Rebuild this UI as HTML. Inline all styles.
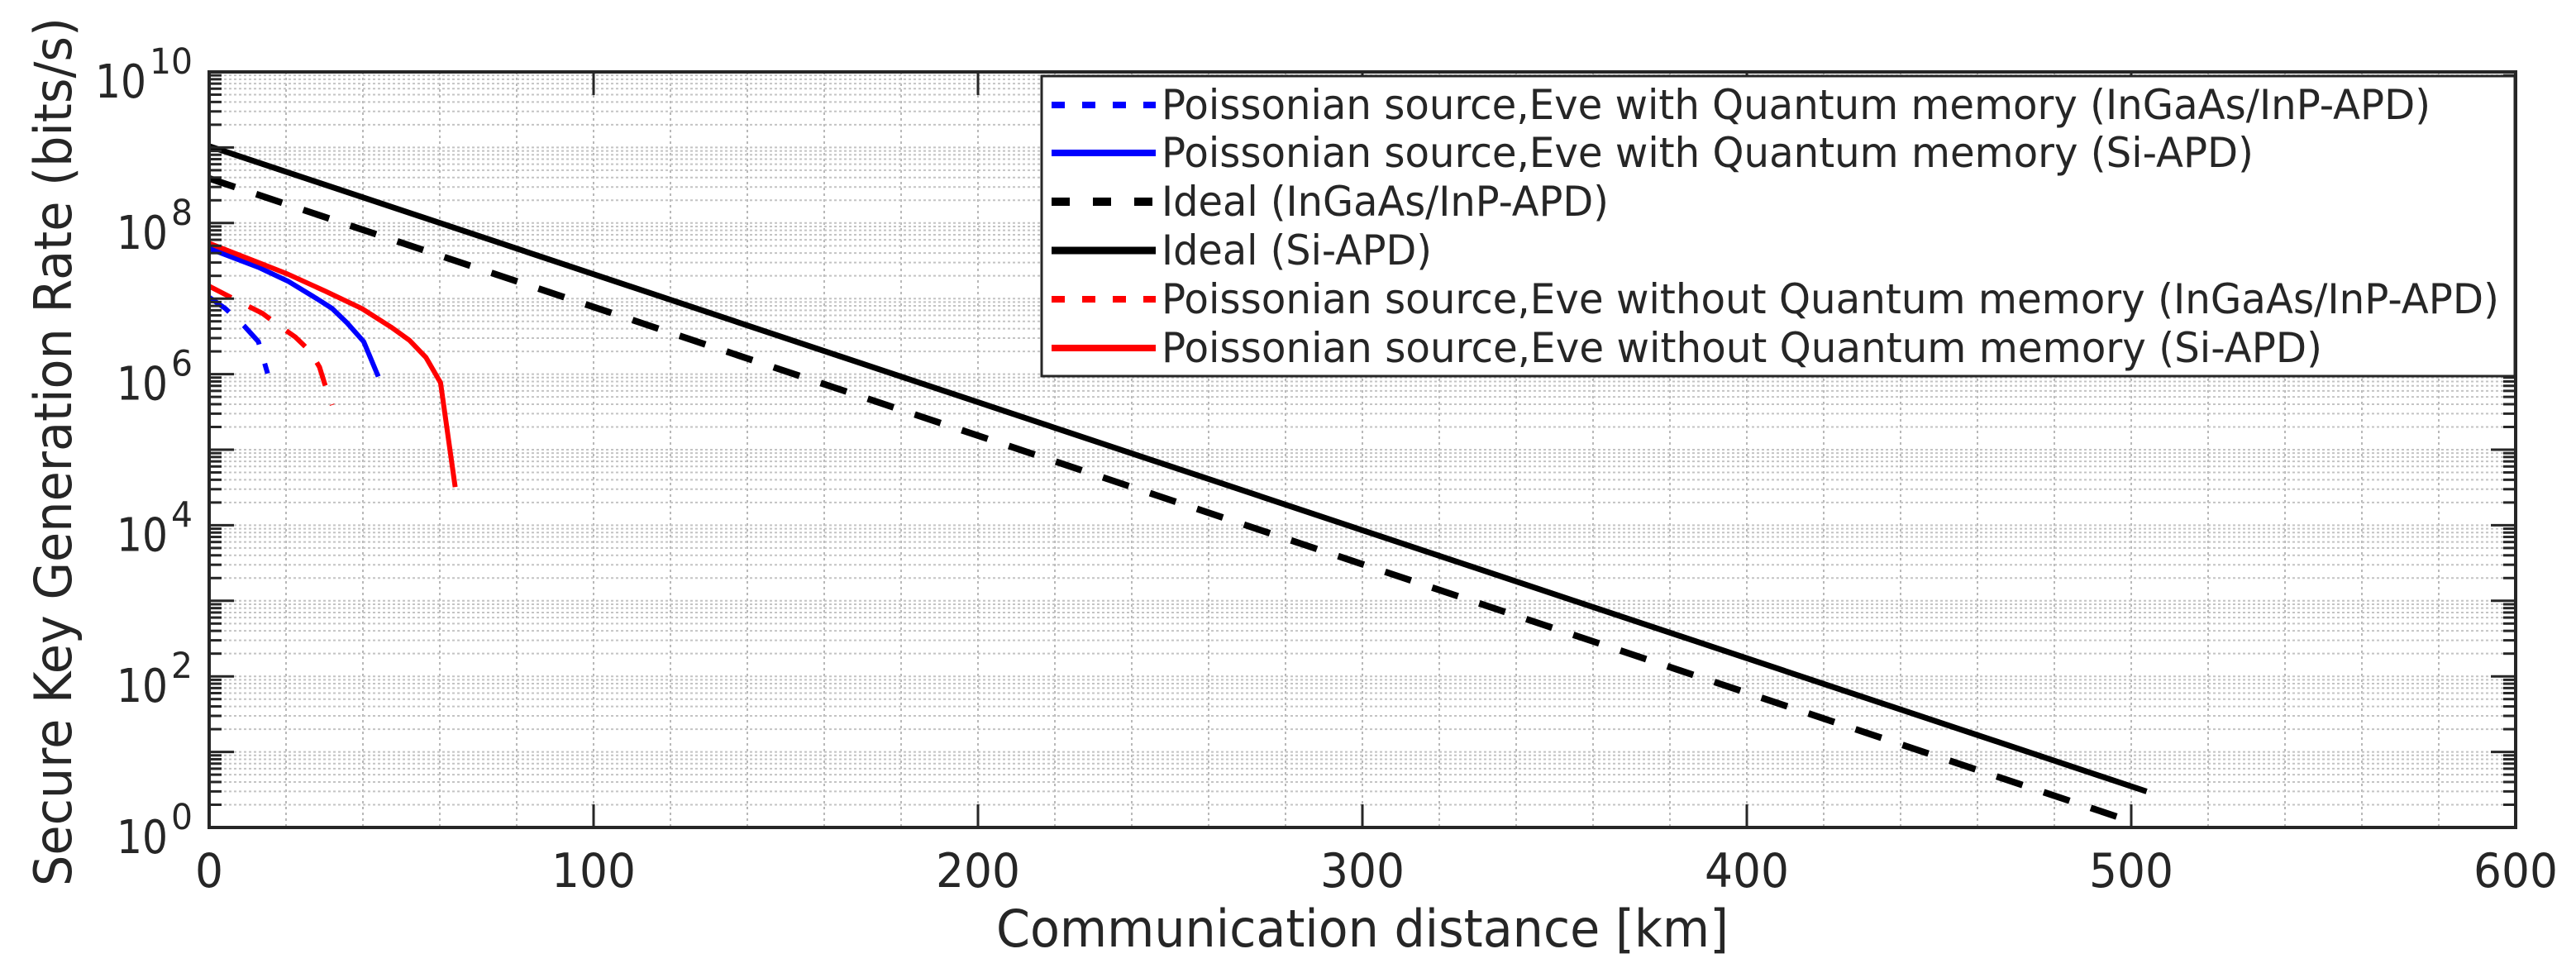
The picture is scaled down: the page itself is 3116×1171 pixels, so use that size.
<!DOCTYPE html>
<html><head><meta charset="utf-8"><style>
html,body{margin:0;padding:0;background:#fff;}
svg{display:block;}
text{font-family:"DejaVu Sans","Liberation Sans",sans-serif;fill:#262626;}
</style></head><body>
<svg id="chart" width="3116" height="1171" viewBox="0 0 3116 1171" xmlns="http://www.w3.org/2000/svg">
<rect width="3116" height="1171" fill="#fff"/>
<g id="grid"></g>
<g id="series"></g>
<g id="axes"></g>
<text x="1205" y="1145" font-size="62" textLength="886" lengthAdjust="spacingAndGlyphs">Communication distance [km]</text>
<text transform="translate(86,1072) rotate(-90)" x="0" y="0" font-size="62" textLength="1051" lengthAdjust="spacingAndGlyphs">Secure Key Generation Rate (bits/s)</text>
<g id="legend"></g>
</svg>
<script>
const xTicks = [0,100,200,300,400,500,600];
const yDecades = [0,2,4,6,8,10];
// series: distance km, rate bits/s
const qmInGaAsX = [0,4.2,9.0,12.8,15.2];
const qmInGaAsY = [1.04e7,7.4e6,4.4e6,2.7e6,1.02e6];
const qmSiX = [0,12.8,20.5,28.1,32.0,35.8,40.2,44.0];
const qmSiY = [4.6e7,2.6e7,1.7e7,9.9e6,7.4e6,4.8e6,2.7e6,9.3e5];
const idealInGaAsX = [0,498];
const idealInGaAsY = [3.9e8,1.3];
const idealSiX = [0,504];
const idealSiY = [1.04e9,3.0];
const noQmInGaAsX = [0,9.0,13.8,17.6,22.4,26.3,28.7,30.1,32.0];
const noQmInGaAsY = [1.46e7,8.5e6,6.4e6,4.6e6,3.1e6,2.0e6,1.24e6,7.3e5,3.9e5];
const noQmSiX = [0,12.8,20.5,30.1,39.7,47.3,52.1,56.4,60.2,64.0];
const noQmSiY = [5.4e7,3.0e7,2.1e7,1.26e7,7.4e6,4.2e6,2.8e6,1.66e6,7.7e5,3.2e4];
const legendLabels = [
 "Poissonian source,Eve with Quantum memory (InGaAs/InP-APD)",
 "Poissonian source,Eve with Quantum memory (Si-APD)",
 "Ideal (InGaAs/InP-APD)",
 "Ideal (Si-APD)",
 "Poissonian source,Eve without Quantum memory (InGaAs/InP-APD)",
 "Poissonian source,Eve without Quantum memory (Si-APD)"];

const L=253,R=3043,T=87,B=1001;
const X0=0,X1=600,Y0=0,Y1=10;
const sx=v=>L+(v-X0)/(X1-X0)*(R-L);
const sy=v=>B-(Math.log10(v)-Y0)/(Y1-Y0)*(B-T);
const NS="http://www.w3.org/2000/svg";
function mk(tag,attrs,parent){const e=document.createElementNS(NS,tag);for(const k in attrs)e.setAttribute(k,attrs[k]);parent.appendChild(e);return e;}
const grid=document.getElementById('grid'),axes=document.getElementById('axes'),ser=document.getElementById('series'),leg=document.getElementById('legend');

for(let k=20;k<600;k+=20){
 const g=mk('line',{x1:sx(k),x2:sx(k),y1:T,y2:B,stroke:'#b8b8b8','stroke-width':2,'stroke-dasharray':'3 4'},grid);
 
 
}
for(let d=0;d<10;d++){
 for(let m=1;m<=9;m++){
  const v=m*Math.pow(10,d);
  const y=sy(v);
  if(m>1||d>0){
   const g=mk('line',{x1:L,x2:R,y1:y,y2:y,stroke:'#c4c4c4','stroke-width':2,'stroke-dasharray':'3 3'},grid);
   
   
  }
  const len=m===1?30:15;
  const t1=mk('line',{x1:L,x2:L+len,y1:y,y2:y,stroke:'#262626','stroke-width':3},axes);
  
  
  const t2=mk('line',{x1:R,x2:R-len,y1:y,y2:y,stroke:'#262626','stroke-width':3},axes);
  
  
 }
}
const box=mk('rect',{x:L,y:T,width:R-L,height:B-T,fill:'none',stroke:'#262626','stroke-width':4},axes);


xTicks.forEach(v=>{
 const x=sx(v);
 const a=mk('line',{x1:x,x2:x,y1:B,y2:B-28,stroke:'#262626','stroke-width':3},axes);
 
 
 const b=mk('line',{x1:x,x2:x,y1:T,y2:T+28,stroke:'#262626','stroke-width':3},axes);
 
 
 const s=String(v);
 const w=s.length*34;
 const t=mk('text',{x:x-w/2,y:1073,'font-size':57,textLength:w,lengthAdjust:'spacingAndGlyphs'},axes);
 t.textContent=s;
 
 
});
yDecades.forEach(d=>{
 const y=sy(Math.pow(10,d));
 const s=String(d);
 const w=s.length*26;
 const ex=233-w;
 const t=mk('text',{x:ex-66,y:y+31,'font-size':56,textLength:62,lengthAdjust:'spacingAndGlyphs'},axes);
 t.textContent='10';
 
 
 const e=mk('text',{x:ex,y:y+2,'font-size':43,textLength:w,lengthAdjust:'spacingAndGlyphs'},axes);
 e.textContent=s;
 
 
});

const styles=[
 {c:'#0000ff',w:6,d:'30 24'},
 {c:'#0000ff',w:6,d:''},
 {c:'#000000',w:8,d:'33 27'},
 {c:'#000000',w:7,d:''},
 {c:'#ff0000',w:6,d:'30 24'},
 {c:'#ff0000',w:6,d:''}];
const data=[[qmInGaAsX,qmInGaAsY],[qmSiX,qmSiY],[idealInGaAsX,idealInGaAsY],[idealSiX,idealSiY],[noQmInGaAsX,noQmInGaAsY],[noQmSiX,noQmSiY]];
const names=['qm-ingaas-line','qm-si-line','ideal-ingaas-line','ideal-si-line','no-qm-ingaas-line','no-qm-si-line'];
data.forEach((s,i)=>{
 const pts=s[0].map((x,j)=>sx(x).toFixed(1)+','+sy(s[1][j]).toFixed(1)).join(' ');
 const a={points:pts,fill:'none',stroke:styles[i].c,'stroke-width':styles[i].w,'stroke-linejoin':'round'};
 if(styles[i].d)a['stroke-dasharray']=styles[i].d;
 const p=mk('polyline',a,ser);
 
 
});

const lb=mk('rect',{x:1260,y:92,width:1782,height:363,fill:'#fff',stroke:'#262626','stroke-width':3},leg);


const rowY=[127,185,244,303,362,421];
const textEnd=[2940,2726,1946,1732,3023,2809];
legendLabels.forEach((lab,i)=>{
 const a={x1:1272,x2:1398,y1:rowY[i],y2:rowY[i],stroke:styles[i].c,'stroke-width':styles[i].w+2};
 if(styles[i].d)a['stroke-dasharray']=i===2?'22 28':'16 21';
 const l=mk('line',a,leg);
 
 
 const t=mk('text',{x:1405,y:rowY[i]+17,'font-size':50,fill:'#000',textLength:textEnd[i]-1405,lengthAdjust:'spacingAndGlyphs'},leg);
 t.textContent=lab;
 
 
});
</script>
</body></html>
